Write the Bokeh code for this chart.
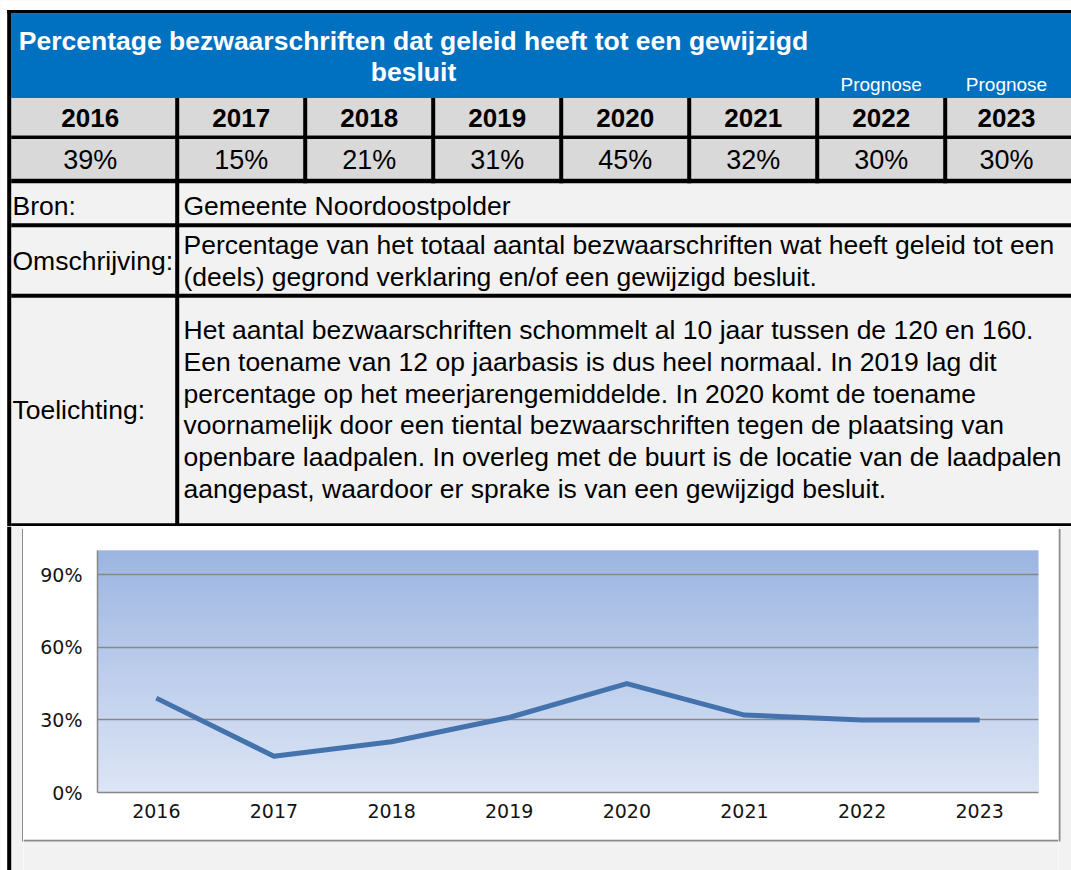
from bokeh.plotting import figure
from bokeh.models import Range1d, FactorRange, FixedTicker, NumeralTickFormatter, BoxAnnotation, Plot
from bokeh.layouts import column, row
from bokeh.embed import file_html
from bokeh.resources import INLINE
from bokeh.core.properties import value
import numpy as np

# ---------------- data ----------------
years = ["2016", "2017", "2018", "2019", "2020", "2021", "2022", "2023"]
percent = [39, 15, 21, 31, 45, 32, 30, 30]
prognose_years = ["2022", "2023"]
y_ticks = [0.0, 0.3, 0.6, 0.9]
title_lines = ["Percentage bezwaarschriften dat geleid heeft tot een gewijzigd", "besluit"]
row_labels = ["Bron:", "Omschrijving:", "Toelichting:"]
bron_text = ["Gemeente Noordoostpolder"]
omschrijving_text = [
    "Percentage van het totaal aantal bezwaarschriften wat heeft geleid tot een",
    "(deels) gegrond verklaring en/of een gewijzigd besluit.",
]
toelichting_text = [
    "Het aantal bezwaarschriften schommelt al 10 jaar tussen de 120 en 160.",
    "Een toename van 12 op jaarbasis is dus heel normaal. In 2019 lag dit",
    "percentage op het meerjarengemiddelde. In 2020 komt de toename",
    "voornamelijk door een tiental bezwaarschriften tegen de plaatsing van",
    "openbare laadpalen. In overleg met de buurt is de locatie van de laadpalen",
    "aangepast, waardoor er sprake is van een gewijzigd besluit.",
]

# ---------------- style ----------------
FONT = value("Liberation Sans")
CHART_FONT = "DejaVu Sans"
BLUE = "#0070c0"
GRAY_ROW = "#d9d9d9"
LIGHT = "#f2f2f2"
BLACK = "#000000"
OUTLINE = "#8c8c8c"
BODY = "26.5px"

X0, X1 = 0, 1071          # page x extent of the whole drawing
TAB_Y0, TAB_Y1 = 0, 526   # table part
BOT_Y1 = 870
LB0, LB = 6.7, 10.7       # left black border

# keep every figure's frame independent inside the layout
NOALIGN = {"frame_align": False} if "frame_align" in Plot.properties() else {}


def deco_fig(w, h, xr, yr, bg=LIGHT):
    f = figure(width=w, height=h, x_range=Range1d(*xr), y_range=Range1d(yr[1], yr[0]),
               x_axis_location=None, y_axis_location=None, toolbar_location=None,
               tools="", output_backend="svg", min_border=0,
               background_fill_color=bg, border_fill_color=bg, outline_line_color=None,
               **NOALIGN)
    f.grid.visible = False
    return f


def rects(f, boxes, color):
    f.quad(left=[b[0] for b in boxes], right=[b[1] for b in boxes],
           top=[b[2] for b in boxes], bottom=[b[3] for b in boxes],
           fill_color=color, line_color=None)


def texts(f, xs, ys, labels, size=BODY, bold=False, color=BLACK, align="left"):
    f.text(x=xs, y=ys, text=labels, text_font=FONT, text_font_size=size,
           text_font_style="bold" if bold else "normal", text_color=color,
           text_align=align, text_baseline="middle")


# ---------------- table figure ----------------
tab = deco_fig(X1 - X0, TAB_Y1 - TAB_Y0, (X0, X1), (TAB_Y0, TAB_Y1))
col_div = [176.7 + 128 * k for k in range(7)]
col_center = [89.7] + [240.7 + 128 * k for k in range(6)] + [1006]

rects(tab, [(X0, X1, 0, 9.5), (X0, LB0, 0, TAB_Y1)], "white")
rects(tab, [(LB, X1, 12.7, 97.5)], BLUE)
rects(tab, [(LB, X1, 97.5, 135), (LB, X1, 138.5, 178.3)], GRAY_ROW)
rects(tab, [(LB0, X1, 9.5, 12.7), (LB0, LB, 9.5, TAB_Y1),
            (LB, X1, 135, 138.5), (LB, X1, 178.3, 182.7),
            (LB, X1, 222.7, 226.7), (LB, X1, 293.3, 297.3), (LB, X1, 522.7, TAB_Y1)], BLACK)
rects(tab, [(c - 2, c + 2, 97.5, 182.7) for c in col_div[1:]] +
      [(col_div[0] - 2, col_div[0] + 2, 97.5, TAB_Y1)], BLACK)

# title
texts(tab, [413, 413], [40, 71.5], title_lines, size="26.5px", bold=True, color="white",
      align="center")
# prognose labels
texts(tab, [col_center[years.index(y)] for y in prognose_years], [84] * len(prognose_years),
      ["Prognose"] * len(prognose_years), size="19px", color="white", align="center")
# years & values
texts(tab, col_center, [117] * len(years), years, size="26px", bold=True, align="center")
texts(tab, col_center, [159] * len(years), [f"{v}%" for v in percent], size="27px",
      align="center")
# row labels and content
texts(tab, [12, 12, 12], [205.5, 260, 409], row_labels)
texts(tab, [183], [205.5], bron_text)
texts(tab, [183] * 2, [244.5, 276], omschrijving_text)
texts(tab, [183] * len(toelichting_text), [329.5 + 31.8 * i for i in range(len(toelichting_text))],
      toelichting_text)

# ---------------- chart surroundings ----------------
CH_X0, CH_X1 = 23, 1058
CH_Y0, CH_Y1 = 530, 839

left_sp = deco_fig(CH_X0 - X0, BOT_Y1 - TAB_Y1, (X0, CH_X0), (TAB_Y1, BOT_Y1))
rects(left_sp, [(X0, LB0, TAB_Y1, BOT_Y1)], "white")
rects(left_sp, [(LB0, LB, TAB_Y1, BOT_Y1)], BLACK)
rects(left_sp, [(21.5, CH_X0, 528.5, 841)], OUTLINE)

right_sp = deco_fig(X1 - CH_X1, BOT_Y1 - TAB_Y1, (CH_X1, X1), (TAB_Y1, BOT_Y1))
rects(right_sp, [(CH_X1, CH_X1 + 2, 528.5, 841)], OUTLINE)

top_sp = deco_fig(CH_X1 - CH_X0, CH_Y0 - TAB_Y1, (CH_X0, CH_X1), (TAB_Y1, CH_Y0))
rects(top_sp, [(CH_X0, CH_X1, 528.5, CH_Y0)], OUTLINE)

bot_sp = deco_fig(CH_X1 - CH_X0, BOT_Y1 - CH_Y1, (CH_X0, CH_X1), (CH_Y1, BOT_Y1))
rects(bot_sp, [(CH_X0, CH_X1, CH_Y1, CH_Y1 + 2)], OUTLINE)

# ---------------- line chart ----------------
ch = figure(width=CH_X1 - CH_X0, height=CH_Y1 - CH_Y0,
            x_range=FactorRange(factors=years, range_padding=0),
            y_range=Range1d(0, 1.0), toolbar_location=None, tools="",
            output_backend="svg", min_border_left=74, min_border_right=20,
            min_border_top=20, min_border_bottom=47,
            border_fill_color="white", background_fill_color="#bccbe9",
            outline_line_color=None, **NOALIGN)

# vertical gradient of the plot area
top_rgb = np.array([155, 181, 225])
bot_rgb = np.array([221, 229, 245])
n_band = 60
for i in range(n_band):
    t = (i + 0.5) / n_band
    c = (bot_rgb + (top_rgb - bot_rgb) * t).round().astype(int)
    ch.add_layout(BoxAnnotation(bottom=i / n_band, top=(i + 1) / n_band + 0.004,
                                fill_color="#%02x%02x%02x" % tuple(c), fill_alpha=1.0,
                                line_alpha=0, level="image"))

ch.line(x=years, y=[v / 100 for v in percent], line_width=5, line_color="#4372ad",
        line_join="round")

ch.xgrid.visible = False
ch.ygrid.ticker = FixedTicker(ticks=[t for t in y_ticks if t > 0])
ch.ygrid.grid_line_color = "#878787"
ch.ygrid.grid_line_width = 1.5

ch.yaxis.ticker = FixedTicker(ticks=y_ticks)
ch.yaxis.formatter = NumeralTickFormatter(format="0%")
for ax in (ch.xaxis[0], ch.yaxis[0]):
    ax.axis_line_color = "#878787"
    ax.axis_line_width = 1.5
    ax.major_tick_line_color = None
    ax.minor_tick_line_color = None
    ax.major_tick_out = 0
    ax.major_tick_in = 0
    ax.major_label_text_font = CHART_FONT
    ax.major_label_text_font_size = "19px"
    ax.major_label_text_color = "#141414"
ch.yaxis.major_label_standoff = 15
ch.xaxis.major_label_standoff = 11

mid = column(top_sp, ch, bot_sp, spacing=0)
bottom = row(left_sp, mid, right_sp, spacing=0)
layout = column(tab, bottom, spacing=0)

open("out.html", "w").write(file_html(layout, INLINE))
